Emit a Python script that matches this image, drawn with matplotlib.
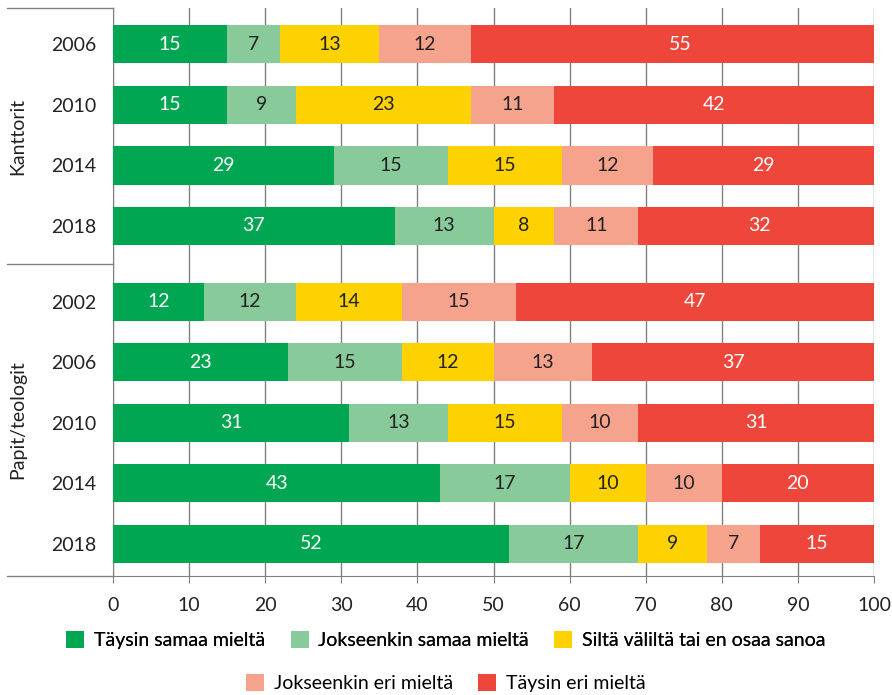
import matplotlib
matplotlib.use("Agg")
import matplotlib.pyplot as plt
from matplotlib.patches import Patch
import numpy as np

plt.rcParams['font.family'] = ['Lato', 'DejaVu Sans']

years = ["2006", "2010", "2014", "2018", "2002", "2006", "2010", "2014", "2018"]
groups = ["Kanttorit", "Papit/teologit"]
series_names = ["Täysin samaa mieltä", "Jokseenkin samaa mieltä",
                "Siltä väliltä tai en osaa sanoa", "Jokseenkin eri mieltä",
                "Täysin eri mieltä"]
taysin_samaa = [15, 15, 29, 37, 12, 23, 31, 43, 52]
jokseenkin_samaa = [7, 9, 15, 13, 12, 15, 13, 17, 17]
silta_valilta = [13, 23, 15, 8, 14, 12, 15, 10, 9]
jokseenkin_eri = [12, 11, 12, 11, 15, 13, 10, 10, 7]
taysin_eri = [55, 42, 29, 32, 47, 37, 31, 20, 15]
colors = ["#00A651", "#88CA9A", "#FDD200", "#F6A38E", "#EF463C"]
text_colors = ["white", "#222222", "#222222", "#222222", "white"]

series = [taysin_samaa, jokseenkin_samaa, silta_valilta, jokseenkin_eri, taysin_eri]

ypos = np.array([0, 1, 2, 3, 4.25, 5.25, 6.25, 7.25, 8.25])
FS = 14

fig = plt.figure(figsize=(8.92, 6.95), dpi=100)
W, H = 892, 695
ax = fig.add_axes([113 / W, 1 - 576 / H, (874 - 113) / W, (576 - 8) / H])

left = np.zeros(len(years))
for vals, c, tc in zip(series, colors, text_colors):
    vals = np.array(vals)
    ax.barh(ypos, vals, left=left, height=0.63, color=c, zorder=3)
    for y, l, v in zip(ypos, left, vals):
        ax.text(l + v / 2, y, str(v), ha="center", va="center", color=tc,
                fontsize=FS, zorder=4)
    left += vals

ax.set_xlim(0, 100)
ax.set_ylim(8.25 + 0.53, -0.6)
ax.set_xticks(range(0, 101, 10))
ax.xaxis.grid(True, color="#808080", linewidth=1, zorder=0)
ax.set_yticks(ypos)
ax.set_yticklabels(years)
ax.tick_params(axis="y", length=0, pad=12, labelsize=FS, labelcolor="#222222")
ax.tick_params(axis="x", length=5, color="#808080", pad=10, labelsize=FS,
               labelcolor="#222222")
for s in ["top", "right"]:
    ax.spines[s].set_visible(False)
for s in ["left", "bottom"]:
    ax.spines[s].set_color("#808080")

# group separators
for yp in [8, 264, 576]:
    fig.add_artist(plt.Line2D([7 / W, 113 / W], [1 - yp / H, 1 - yp / H],
                              color="#808080", linewidth=1))
fig.text(18 / W, 1 - 136 / H, groups[0], rotation=90, ha="center", va="center",
         fontsize=FS, color="#222222")
fig.text(18 / W, 1 - 420 / H, groups[1], rotation=90, ha="center", va="center",
         fontsize=FS, color="#222222")

handles = [Patch(facecolor=c, edgecolor="none") for c in colors]
leg_kw = dict(loc="center", frameon=False, fontsize=FS, handlelength=0.93,
              handleheight=0.93, columnspacing=1.3, handletextpad=0.5,
              borderpad=0, borderaxespad=0)
leg1 = fig.legend(handles[:3], series_names[:3],
                  bbox_to_anchor=(0.5, 1 - 640 / H), ncol=3, **leg_kw)
leg2 = fig.legend(handles[3:], series_names[3:],
                  bbox_to_anchor=(0.5, 1 - 683 / H), ncol=2, **leg_kw)
fig.add_artist(leg1)

fig.savefig("out.png", dpi=100)
